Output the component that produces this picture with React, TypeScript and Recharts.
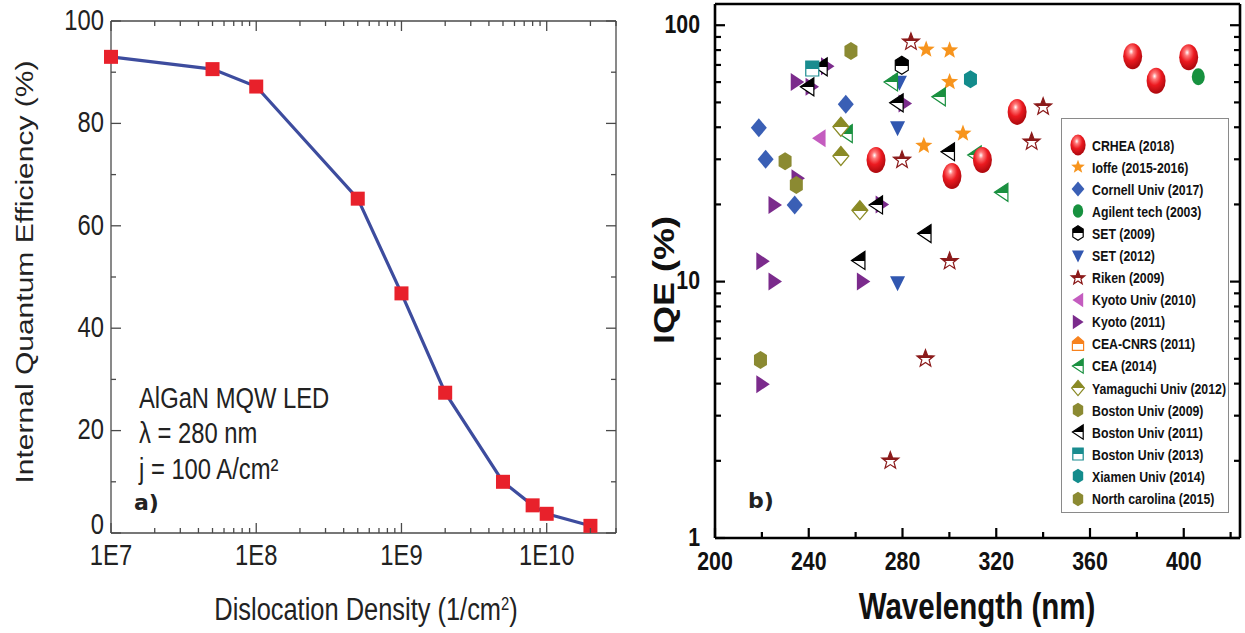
import React from "react";
import { LineChart, Line, XAxis, YAxis, ScatterChart, Scatter, Legend } from "recharts";

// ---- panel a) : IQE vs dislocation density ----
const densities = [1e7, 5e7, 1e8, 5e8, 1e9, 2e9, 5e9, 8e9, 1e10, 2e10];
const iqeValues = [93.0, 90.6, 87.2, 65.3, 46.8, 27.4, 10.0, 5.4, 3.75, 1.4];
const densityMajors = [1e7, 1e8, 1e9, 1e10];
const densityLabels = ["1E7", "1E8", "1E9", "1E10"];
const densityMinors = [
  2e7, 3e7, 4e7, 5e7, 6e7, 7e7, 8e7, 9e7,
  2e8, 3e8, 4e8, 5e8, 6e8, 7e8, 8e8, 9e8,
  2e9, 3e9, 4e9, 5e9, 6e9, 7e9, 8e9, 9e9,
  2e10, 3e10,
];
const effMajors = [0, 20, 40, 60, 80, 100];
const effLabels = ["0", "20", "40", "60", "80", "100"];
const effMinors = [10, 30, 50, 70, 90];

// ---- panel b) : IQE vs wavelength, [nm, IQE %] ----
const crhea = [[268.7, 29.8], [301.1, 25.8], [314.1, 29.8], [328.9, 45.9], [378.2, 75.7], [388.2, 60.7], [402.1, 75]];
const ioffe = [[290.1, 80.4], [300.1, 79.8], [300.1, 60.1], [305.8, 37.8], [289.1, 33.9]];
const cornell = [[218.7, 39.8], [221.6, 30], [234, 19.9], [255.8, 49.2]];
const agilent = [[406.2, 62.9]];
const set2009 = [[279.7, 69.8]];
const set2012 = [[278.7, 59.6], [277.9, 39.6], [277.9, 9.86]];
const riken = [[283.6, 86.1], [279.8, 29.8], [300.1, 12.0], [289.8, 5.0], [274.8, 2.0], [335.1, 35.1], [340.0, 48.1]];
const kyotoUniv2010 = [[244.4, 36.2]];
const kyoto2011 = [[248, 69.2], [235.1, 60.1], [241.4, 57.5], [281.1, 49.5], [235.4, 25.3], [225.6, 19.9], [271.3, 20.0], [220.4, 12.0], [225.6, 10], [263.3, 10], [220.4, 3.98]];
const ceaCnrs: number[][] = [];
const cea2014 = [[275.1, 60.1], [295.5, 52.6], [255.8, 37.8], [310.8, 31.2], [322.2, 22.3]];
const yamaguchi = [[253.7, 40.2], [253.7, 30.9], [261.8, 19.0]];
const boston2009 = [[258, 79.4], [229.9, 29.5]];
const boston2011 = [[245.1, 68.8], [239.4, 57.5], [277.5, 49.8], [299.4, 32.1], [268.7, 19.9], [289.4, 15.4], [261.2, 12.1]];
const boston2013 = [[241.5, 67.8]];
const xiamen = [[309, 61.6]];
const northCarolina = [[234.7, 23.8], [219.4, 4.95]];

const waveMajors = [200, 240, 280, 320, 360, 400];
const waveLabels = ["200", "240", "280", "320", "360", "400"];
const waveMinors = [220, 260, 300, 340, 380, 420];
const iqeLogMajors = [1, 10, 100];
const iqeLogLabels = ["1", "10", "100"];
const iqeLogMinors = [2, 3, 4, 5, 6, 7, 8, 9, 20, 30, 40, 50, 60, 70, 80, 90];

const SANS = "'Liberation Sans', Arial, Helvetica, sans-serif";

// ---------- marker shapes ----------
const pts = (p: number[][], cx: number, cy: number, k: number) =>
  p.map(([x, y]) => `${cx + x * k},${cy + y * k}`).join(" ");

const starPts = (() => {
  const out: number[][] = [];
  for (let i = 0; i < 10; i++) {
    const r = i % 2 === 0 ? 9 : 3.8;
    const a = -Math.PI / 2 + (i * Math.PI) / 5;
    out.push([r * Math.cos(a), r * Math.sin(a)]);
  }
  return out;
})();
const diamondPts = [[0, -9.5], [8, 0], [0, 9.5], [-8, 0]];
const hexPts = [[0, -9], [6.5, -5], [6.5, 5], [0, 9], [-6.5, 5], [-6.5, -5]];
const invTriPts = [[-7.5, -7], [7.5, -7], [0, 8]];
const leftTriPts = [[-7, 0], [6.5, -9], [6.5, 9]];
const rightTriPts = [[7, 0], [-6.5, -9], [-6.5, 9]];
const squarePts = [[-6.5, -7.5], [6.5, -7.5], [6.5, 7.5], [-6.5, 7.5]];
const housePts = [[0, -9], [7, -3], [7, 8], [-7, 8], [-7, -3]];

type Draw = (cx: number, cy: number, k: number) => React.ReactElement;
const solid = (p: number[][], color: string): Draw => (cx, cy, k) => (
  <polygon points={pts(p, cx, cy, k)} fill={color} />
);
const half = (p: number[][], color: string, grad: string): Draw => (cx, cy, k) => (
  <polygon points={pts(p, cx, cy, k)} fill={`url(#${grad})`} stroke={color} strokeWidth={1.2} />
);

const sphere: Draw = (cx, cy, k) => <ellipse cx={cx} cy={cy} rx={9.5 * k} ry={13 * k} fill="url(#sphere)" />;
const greenDot: Draw = (cx, cy, k) => <ellipse cx={cx} cy={cy} rx={6.5 * k} ry={8.5 * k} fill="#17913f" />;

type Series = { name: string; data: number[][]; draw: Draw };
const seriesList: Series[] = [
  { name: "CRHEA (2018)", data: crhea, draw: sphere },
  { name: "Ioffe (2015-2016)", data: ioffe, draw: solid(starPts, "#f7941d") },
  { name: "Cornell Univ (2017)", data: cornell, draw: solid(diamondPts, "#3a5fb5") },
  { name: "Agilent tech (2003)", data: agilent, draw: greenDot },
  { name: "SET (2009)", data: set2009, draw: half(hexPts, "#000", "h-black") },
  { name: "SET (2012)", data: set2012, draw: solid(invTriPts, "#3157b0") },
  { name: "Riken (2009)", data: riken, draw: half(starPts, "#8b1a1a", "h-riken") },
  { name: "Kyoto Univ (2010)", data: kyotoUniv2010, draw: solid(leftTriPts, "#c45cbf") },
  { name: "Kyoto (2011)", data: kyoto2011, draw: solid(rightTriPts, "#7b2b8c") },
  { name: "CEA-CNRS (2011)", data: ceaCnrs, draw: half(housePts, "#f7821e", "h-orange") },
  { name: "CEA (2014)", data: cea2014, draw: half(leftTriPts, "#1a9040", "h-green") },
  { name: "Yamaguchi Univ (2012)", data: yamaguchi, draw: half(diamondPts, "#8a8a25", "h-olive") },
  { name: "Boston Univ (2009)", data: boston2009, draw: solid(hexPts, "#8b8a32") },
  { name: "Boston Univ (2011)", data: boston2011, draw: half(leftTriPts, "#000", "h-black") },
  { name: "Boston Univ (2013)", data: boston2013, draw: half(squarePts, "#1a8c8f", "h-teal") },
  { name: "Xiamen Univ (2014)", data: xiamen, draw: solid(hexPts, "#138c8c") },
  { name: "North carolina (2015)", data: northCarolina, draw: solid(hexPts, "#8b8a32") },
];
// draw order: spheres last (they sit on top)
const drawOrder = [...seriesList.slice(1), seriesList[0]];

// ---------- ticks ----------
type Side = "bottom" | "top" | "left" | "right";
type TickOpts = {
  side: Side; majors: number[]; labels?: string[]; major: number; minor: number;
  stroke: string; sw: number; gap: number; xgap?: number; size: number; bold?: boolean; color: string;
  liftFirst?: boolean;
};
const tickRenderer = (o: TickOpts) => (props: any) => {
  const { x, y, payload } = props;
  const v = payload.value;
  const idx = o.majors.indexOf(v);
  const len = idx >= 0 ? o.major : o.minor;
  let x2 = x, y2 = y;
  if (o.side === "bottom") y2 = y - len;
  else if (o.side === "top") y2 = y + len;
  else if (o.side === "left") x2 = x + len;
  else x2 = x - len;
  let label = null;
  const common = { fontFamily: SANS, fontSize: o.size, fontWeight: o.bold ? 700 : 400, fill: o.color };
  if (o.labels && idx >= 0) {
    if (o.side === "bottom")
      label = (
        <text transform={`translate(${x},${y + (o.xgap ?? o.gap)}) scale(0.82,1)`} textAnchor="middle" dy="0.72em" {...common}>
          {o.labels[idx]}
        </text>
      );
    if (o.side === "left")
      label = (
        <text transform={`translate(${x - o.gap},${y}) scale(0.82,1)`} textAnchor="end"
          dy={o.liftFirst && idx === 0 ? "0.05em" : "0.3em"} {...common}>
          {o.labels[idx]}
        </text>
      );
  }
  return (
    <g>
      <line x1={x} y1={y} x2={x2} y2={y2} stroke={o.stroke} strokeWidth={o.sw} />
      {label}
    </g>
  );
};

const Txt = ({ x, y, size, bold, sx = 0.82, mid, color = "#222", children }: any) => (
  <div
    style={{
      position: "absolute", left: x, top: y, fontSize: size, fontWeight: bold ? 700 : 400,
      fontFamily: SANS, color, whiteSpace: "nowrap", lineHeight: 1,
      transform: `translate(${mid ? "-50%" : "0"}, -50%) scaleX(${sx})`,
      transformOrigin: mid ? "center" : "left center",
    }}
  >
    {children}
  </div>
);

const VTxt = ({ x, y, size, bold, color = "#222", children }: any) => (
  <div
    style={{
      position: "absolute", left: x, top: y, fontSize: size, fontWeight: bold ? 700 : 400,
      fontFamily: SANS, color, whiteSpace: "nowrap", lineHeight: 1,
      transform: "translate(-50%, -50%) rotate(-90deg) scaleY(0.82)", transformOrigin: "center",
    }}
  >
    {children}
  </div>
);

function LegendBox() {
  return (
    <div style={{ width: 168, height: 395, border: "1px solid #8a8a8a", background: "#fff", boxSizing: "border-box", paddingTop: 15 }}>
      {seriesList.map((s) => (
        <div key={s.name} style={{ height: 22.1, display: "flex", alignItems: "center" }}>
          <svg width={30} height={22} style={{ flex: "none" }}>
            {s.draw(16, 11, 0.8)}
          </svg>
          <span
            style={{
              fontFamily: SANS, fontWeight: 700, fontSize: 15, color: "#111", whiteSpace: "nowrap",
              display: "inline-block", transform: "scaleX(0.82)", transformOrigin: "left center",
            }}
          >
            {s.name}
          </span>
        </div>
      ))}
    </div>
  );
}

export default function App() {
  const lineRows = densities.map((d, i) => ({ density: d, iqe: iqeValues[i] }));
  const aGrey = "#4a4a4a";
  const aTick = { stroke: aGrey, sw: 1.3, major: 10, minor: 5, gap: 7, xgap: 11, size: 29, color: "#222", liftFirst: true };
  const bTick = { stroke: "#000", sw: 2.2, major: 10, minor: 6, gap: 13, xgap: 13, size: 26, bold: true, color: "#111" };

  return (
    <div style={{ position: "absolute", left: 0, top: 0, width: 1245, height: 633, background: "#fff", overflow: "hidden" }}>
      <svg width={0} height={0} style={{ position: "absolute" }}>
        <defs>
          <radialGradient id="sphere" cx="0.42" cy="0.32" r="0.65">
            <stop offset="0" stopColor="#ffffff" />
            <stop offset="0.2" stopColor="#ff7a7a" />
            <stop offset="0.55" stopColor="#ec1a20" />
            <stop offset="1" stopColor="#b00a0f" />
          </radialGradient>
          {[
            ["h-black", "#000"], ["h-riken", "#8b1a1a"], ["h-orange", "#f7821e"], ["h-green", "#1a9040"],
            ["h-olive", "#8a8a25"], ["h-teal", "#1a8c8f"],
          ].map(([id, c]) => (
            <linearGradient key={id} id={id} x1="0" y1="0" x2="0" y2="1">
              <stop offset="0.52" stopColor={c} />
              <stop offset="0.52" stopColor="#fff" />
            </linearGradient>
          ))}
        </defs>
      </svg>

      {/* ---------- panel a ---------- */}
      <div style={{ position: "absolute", left: 0, top: 0 }}>
        <LineChart width={640} height={633} data={lineRows} margin={{ top: 20, right: 23, bottom: 99, left: 110 }}>
          <XAxis xAxisId="b" dataKey="density" type="number" scale="log" domain={[1e7, 3e10]} orientation="bottom"
            ticks={[...densityMajors, ...densityMinors]} interval={0} height={1} tickSize={0} tickMargin={0} tickLine={false}
            axisLine={{ stroke: aGrey, strokeWidth: 1.3 }}
            tick={tickRenderer({ side: "bottom", majors: densityMajors, labels: densityLabels, ...aTick })} />
          <XAxis xAxisId="t" dataKey="density" type="number" scale="log" domain={[1e7, 3e10]} orientation="top" allowDataOverflow
            ticks={[...densityMajors, ...densityMinors]} interval={0} height={1} tickSize={0} tickMargin={0} tickLine={false}
            axisLine={{ stroke: aGrey, strokeWidth: 1.3 }}
            tick={tickRenderer({ side: "top", majors: densityMajors, ...aTick })} />
          <YAxis yAxisId="l" type="number" domain={[0, 100]} orientation="left"
            ticks={[...effMajors, ...effMinors]} interval={0} width={1} tickSize={0} tickMargin={0} tickLine={false}
            axisLine={{ stroke: aGrey, strokeWidth: 1.3 }}
            tick={tickRenderer({ side: "left", majors: effMajors, labels: effLabels, ...aTick })} />
          <YAxis yAxisId="r" type="number" domain={[0, 100]} orientation="right" allowDataOverflow
            ticks={[...effMajors, ...effMinors]} interval={0} width={1} tickSize={0} tickMargin={0} tickLine={false}
            axisLine={{ stroke: aGrey, strokeWidth: 1.3 }}
            tick={tickRenderer({ side: "right", majors: effMajors, ...aTick })} />
          <Line xAxisId="b" yAxisId="l" dataKey="iqe" type="linear" stroke="#3d4c9e" strokeWidth={3.2}
            isAnimationActive={false}
            dot={(p: any) => <rect key={p.index} x={p.cx - 7} y={p.cy - 7} width={14} height={14} fill="#e8212b" />} />
        </LineChart>
      </div>
      <VTxt x={25} y={272} size={30}>Internal Quantum Efficiency (%)</VTxt>
      <Txt x={366} y={609} size={31} mid>
        Dislocation Density (1/cm<sup style={{ fontSize: 18, verticalAlign: "0.55em" }}>2</sup>)
      </Txt>
      <Txt x={139} y={398} size={29}>AlGaN MQW LED</Txt>
      <Txt x={139} y={433} size={29}>λ = 280 nm</Txt>
      <Txt x={139} y={469} size={29}>j = 100 A/cm²</Txt>
      <Txt x={134} y={503} size={22} bold sx={1} color="#222">
        <span style={{ fontFamily: "'DejaVu Sans', sans-serif" }}>a)</span>
      </Txt>

      {/* ---------- panel b ---------- */}
      <div style={{ position: "absolute", left: 640, top: 0 }}>
        <ScatterChart width={605} height={633} margin={{ top: 3, right: 4, bottom: 94, left: 74 }}>
          <XAxis xAxisId="b" dataKey="x" type="number" domain={[200, 424]} orientation="bottom"
            ticks={[...waveMajors, ...waveMinors]} interval={0} height={1} tickSize={0} tickMargin={0} tickLine={false}
            axisLine={{ stroke: "#000", strokeWidth: 2.6 }}
            tick={tickRenderer({ side: "bottom", majors: waveMajors, labels: waveLabels, ...bTick })} />
          <XAxis xAxisId="t" type="number" domain={[200, 424]} orientation="top" allowDataOverflow
            ticks={[...waveMajors, ...waveMinors]} interval={0} height={1} tickSize={0} tickMargin={0} tickLine={false}
            axisLine={{ stroke: "#000", strokeWidth: 2.6 }}
            tick={tickRenderer({ side: "top", majors: waveMajors, ...bTick })} />
          <YAxis yAxisId="l" dataKey="y" type="number" scale="log" domain={[1, 121]} orientation="left"
            ticks={[...iqeLogMajors, ...iqeLogMinors]} interval={0} width={1} tickSize={0} tickMargin={0} tickLine={false}
            axisLine={{ stroke: "#000", strokeWidth: 2.6 }}
            tick={tickRenderer({ side: "left", majors: iqeLogMajors, labels: iqeLogLabels, ...bTick, gap: 15 })} />
          <YAxis yAxisId="r" type="number" scale="log" domain={[1, 121]} orientation="right" allowDataOverflow
            ticks={[...iqeLogMajors, ...iqeLogMinors]} interval={0} width={1} tickSize={0} tickMargin={0} tickLine={false}
            axisLine={{ stroke: "#000", strokeWidth: 2.6 }}
            tick={tickRenderer({ side: "right", majors: iqeLogMajors, ...bTick })} />
          {drawOrder.map((s) => (
            <Scatter key={s.name} name={s.name} xAxisId="b" yAxisId="l" isAnimationActive={false}
              data={s.data.map(([x, y]) => ({ x, y }))}
              shape={(p: any) => s.draw(p.cx, p.cy, 1)} />
          ))}
          <Legend layout="vertical" align="center" verticalAlign="middle" content={() => <LegendBox />}
            wrapperStyle={{ left: 421, top: 118, width: 168 }} />
        </ScatterChart>
      </div>
      <VTxt x={664} y={280} size={36} bold color="#111">IQE (%)</VTxt>
      <Txt x={977} y={607} size={36} bold mid color="#111">Wavelength (nm)</Txt>
      <Txt x={748} y={501} size={22} bold sx={1} color="#222">
        <span style={{ fontFamily: "'DejaVu Sans', sans-serif" }}>b)</span>
      </Txt>
    </div>
  );
}
